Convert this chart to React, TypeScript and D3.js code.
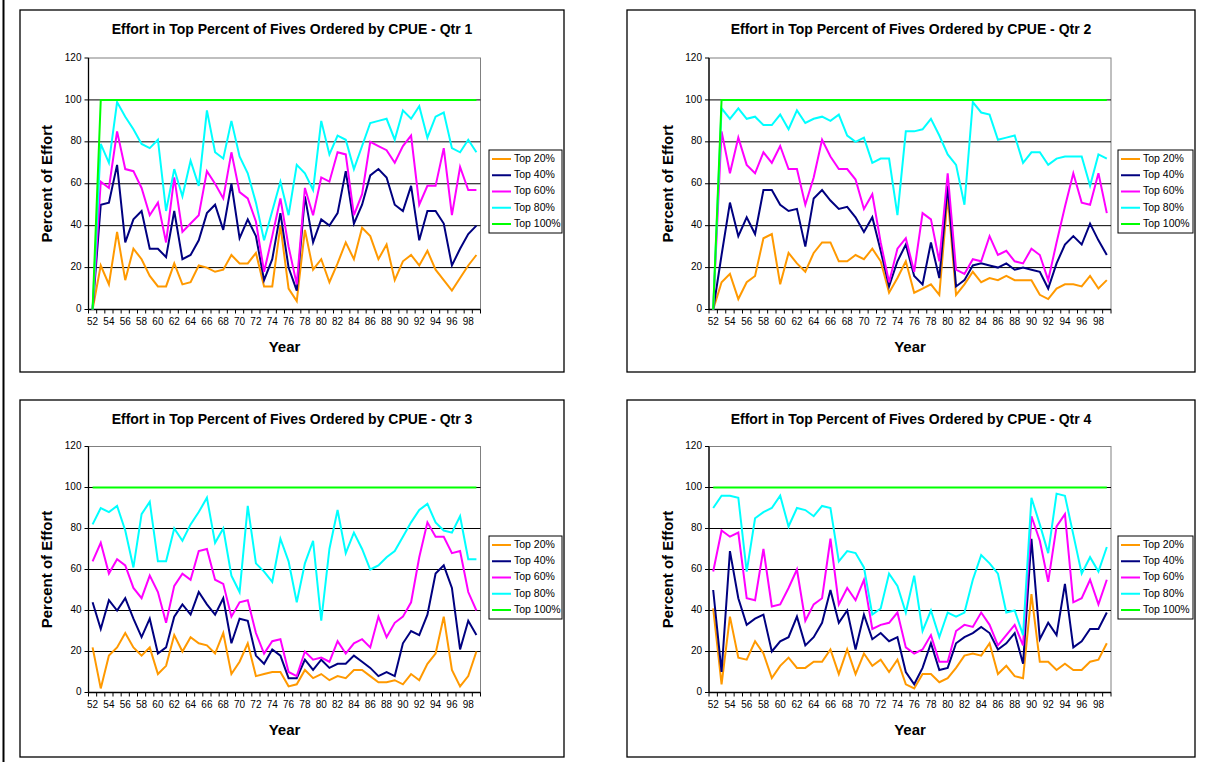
import React from "react";
import * as d3 from "d3";

const years = ["52","53","54","55","56","57","58","59","60","61","62","63","64","65","66","67","68","69","70","71","72","73","74","75","76","77","78","79","80","81","82","83","84","85","86","87","88","89","90","91","92","93","94","95","96","97","98","99"];
const xTickLabels = ["52","54","56","58","60","62","64","66","68","70","72","74","76","78","80","82","84","86","88","90","92","94","96","98"];
const yTicks = [0, 20, 40, 60, 80, 100, 120];
const seriesNames = ["Top 20%", "Top 40%", "Top 60%", "Top 80%", "Top 100%"];
const seriesColors = ["#FF9900", "#000080", "#FF00FF", "#00FFFF", "#00FF00"];

// Qtr 1
const q1Top20 = [0,21,12,37,14,29,24,16,11,11,22,12,13,21,20,18,19,26,22,22,27,11,11,40,10,4,38,19,24,13,22,32,24,39,35,24,31,14,23,26,21,28,19,14,9,15,21,26];
const q1Top40 = [0,50,51,69,32,43,47,29,29,25,47,24,26,33,46,50,38,60,34,43,35,14,24,46,20,9,54,32,43,40,46,66,41,50,64,67,63,50,47,59,33,47,47,41,21,29,36,40];
const q1Top60 = [0,61,58,85,67,66,58,45,51,32,63,37,41,45,66,60,53,75,56,53,42,18,35,53,30,12,58,45,63,61,75,74,45,55,80,78,76,70,78,83,50,59,59,77,45,68,57,57];
const q1Top80 = [0,79,70,99,92,86,79,77,81,47,67,54,71,59,95,75,72,90,73,65,51,33,47,61,45,69,65,57,90,74,83,81,67,78,89,90,91,81,95,91,97,82,92,94,77,75,81,75];
const q1Top100 = [0,100,100,100,100,100,100,100,100,100,100,100,100,100,100,100,100,100,100,100,100,100,100,100,100,100,100,100,100,100,100,100,100,100,100,100,100,100,100,100,100,100,100,100,100,100,100,100];

// Qtr 2
const q2Top20 = [0,13,17,5,13,16,34,36,12,27,22,18,27,32,32,23,23,26,24,29,23,8,15,23,8,10,12,7,54,7,12,18,13,15,14,16,14,14,14,7,5,10,12,12,11,16,10,14];
const q2Top40 = [0,26,51,35,44,36,57,57,50,47,48,30,53,57,52,48,49,44,37,44,28,11,23,31,16,12,32,15,59,11,14,21,22,21,20,22,19,20,19,18,10,22,31,35,31,41,33,26];
const q2Top60 = [0,85,65,82,69,65,75,70,78,67,67,50,63,81,73,67,67,62,48,55,32,13,29,34,18,46,43,23,65,19,17,24,23,35,26,28,23,22,29,26,14,32,49,65,51,50,65,46];
const q2Top80 = [0,96,91,96,91,92,88,88,93,86,95,89,91,92,90,93,83,80,82,70,72,72,45,85,85,86,91,83,74,69,50,99,94,93,81,82,83,70,75,75,69,72,73,73,73,59,74,72];
const q2Top100 = [0,100,100,100,100,100,100,100,100,100,100,100,100,100,100,100,100,100,100,100,100,100,100,100,100,100,100,100,100,100,100,100,100,100,100,100,100,100,100,100,100,100,100,100,100,100,100,100];

// Qtr 3
const q3Top20 = [22,2,18,22,29,22,18,22,9,13,28,20,27,24,23,19,29,9,15,24,8,9,10,10,3,4,11,7,9,6,8,7,11,11,8,5,5,6,4,9,6,14,19,37,11,3,8,20];
const q3Top40 = [44,31,45,40,46,36,27,36,19,22,37,43,38,49,43,38,46,24,36,35,18,14,21,18,7,7,16,11,16,12,14,14,18,15,12,8,10,8,24,30,28,38,58,62,51,21,35,28];
const q3Top60 = [64,73,58,65,62,51,46,57,49,34,52,58,55,69,70,55,53,37,44,45,29,19,25,26,10,8,20,16,17,15,25,19,24,26,22,37,27,34,37,44,66,83,76,76,68,69,49,40];
const q3Top80 = [82,90,88,91,79,61,87,93,64,64,80,74,82,88,95,73,80,57,49,91,63,59,54,75,64,44,63,74,35,70,89,68,78,70,60,62,66,69,76,83,89,92,83,79,78,86,65,65];
const q3Top100 = [100,100,100,100,100,100,100,100,100,100,100,100,100,100,100,100,100,100,100,100,100,100,100,100,100,100,100,100,100,100,100,100,100,100,100,100,100,100,100,100,100,100,100,100,100,100,100,100];

// Qtr 4
const q4Top20 = [41,4,37,17,16,25,19,7,13,17,12,12,15,15,21,9,21,9,19,13,16,10,16,4,2,9,9,5,7,12,18,19,18,24,9,13,8,7,48,15,15,11,14,11,11,15,16,24];
const q4Top40 = [50,10,69,46,33,36,38,20,25,27,37,23,27,34,50,34,40,21,38,26,29,25,27,10,4,12,24,11,12,24,27,29,32,29,21,24,29,14,75,26,34,28,53,22,25,31,31,39];
const q4Top60 = [59,79,76,78,46,45,70,42,43,51,60,35,43,46,75,43,51,45,55,31,33,34,39,22,19,21,28,15,15,30,33,32,39,33,23,28,33,23,86,74,54,81,87,44,46,55,43,55];
const q4Top80 = [90,96,96,95,59,85,88,90,96,81,90,89,86,91,90,64,69,68,61,38,41,58,52,39,57,30,40,27,39,37,39,55,67,63,58,39,40,28,95,82,68,97,96,77,58,66,59,71];
const q4Top100 = [100,100,100,100,100,100,100,100,100,100,100,100,100,100,100,100,100,100,100,100,100,100,100,100,100,100,100,100,100,100,100,100,100,100,100,100,100,100,100,100,100,100,100,100,100,100,100,100];

const FONT = "Arial, 'Liberation Sans', sans-serif";

type PanelCfg = {
  title: string;
  box: [number, number, number, number];
  plot: [number, number, number, number];
  legend: [number, number, number, number];
  series: number[][];
};

const panels: PanelCfg[] = [
  { title: "Effort in Top Percent of Fives Ordered by CPUE - Qtr 1", box: [20, 10, 564, 372], plot: [88.5, 58, 480.5, 309.5], legend: [489, 150, 562, 233], series: [q1Top20, q1Top40, q1Top60, q1Top80, q1Top100] },
  { title: "Effort in Top Percent of Fives Ordered by CPUE - Qtr 2", box: [627, 10, 1195, 372], plot: [709, 58, 1111, 309.5], legend: [1118, 150, 1193, 233], series: [q2Top20, q2Top40, q2Top60, q2Top80, q2Top100] },
  { title: "Effort in Top Percent of Fives Ordered by CPUE - Qtr 3", box: [20, 400, 564, 757], plot: [88.5, 446.5, 480.5, 692.5], legend: [489, 536, 562, 619], series: [q3Top20, q3Top40, q3Top60, q3Top80, q3Top100] },
  { title: "Effort in Top Percent of Fives Ordered by CPUE - Qtr 4", box: [627, 400, 1195, 757], plot: [709, 446.5, 1111, 692.5], legend: [1118, 536, 1193, 619], series: [q4Top20, q4Top40, q4Top60, q4Top80, q4Top100] },
];

function Panel({ cfg }: { cfg: PanelCfg }) {
  const [bx0, by0, bx1, by1] = cfg.box;
  const [px0, py0, px1, py1] = cfg.plot;
  const [lx0, ly0, lx1, ly1] = cfg.legend;
  const x = d3.scaleBand<string>().domain(years).range([px0, px1]).paddingInner(0).paddingOuter(0);
  const y = d3.scaleLinear().domain([0, 120]).range([py1, py0]);
  const bw = x.bandwidth();
  const line = d3
    .line<number>()
    .x((_, i) => (x(years[i]) as number) + bw / 2)
    .y((d) => y(d));
  const boundaries = years.map((yr) => x(yr) as number).concat([px1]);
  const legendStep = (ly1 - ly0 - 18) / 4;
  return (
    <g>
      <rect x={bx0} y={by0} width={bx1 - bx0} height={by1 - by0} fill="#fff" stroke="#000" strokeWidth={1.3} />
      <text x={(bx0 + bx1) / 2} y={by0 + 20} textAnchor="middle" dominantBaseline="middle" fontFamily={FONT} fontWeight="bold" fontSize={14}>
        {cfg.title}
      </text>
      <rect x={px0} y={py0} width={px1 - px0} height={py1 - py0} fill="#fff" stroke="#808080" strokeWidth={1} />
      {yTicks.filter((t) => t > 0 && t < 120).map((t) => (
        <line key={"g" + t} x1={px0} x2={px1} y1={y(t)} y2={y(t)} stroke="#000" strokeWidth={1} />
      ))}
      <line x1={px0} x2={px0} y1={py0} y2={py1} stroke="#000" strokeWidth={1.3} />
      <line x1={px0} x2={px1} y1={py1} y2={py1} stroke="#000" strokeWidth={1.3} />
      {yTicks.map((t) => (
        <g key={"yt" + t}>
          <line x1={px0 - 4} x2={px0} y1={y(t)} y2={y(t)} stroke="#000" strokeWidth={1} />
          <text x={px0 - 7} y={y(t)} textAnchor="end" dominantBaseline="middle" fontFamily={FONT} fontSize={10}>
            {t}
          </text>
        </g>
      ))}
      {boundaries.map((bx, i) => (
        <line key={"xt" + i} x1={bx} x2={bx} y1={py1} y2={py1 + 4} stroke="#000" strokeWidth={1} />
      ))}
      {xTickLabels.map((lab) => (
        <text key={"xl" + lab} x={(x(lab) as number) + bw / 2} y={py1 + 13} textAnchor="middle" dominantBaseline="middle" fontFamily={FONT} fontSize={10}>
          {lab}
        </text>
      ))}
      <text x={(px0 + px1) / 2} y={py1 + 39} textAnchor="middle" dominantBaseline="middle" fontFamily={FONT} fontWeight="bold" fontSize={15}>
        Year
      </text>
      <text
        transform={`translate(${px0 - 40},${(py0 + py1) / 2}) rotate(-90)`}
        textAnchor="middle"
        dominantBaseline="middle"
        fontFamily={FONT}
        fontWeight="bold"
        fontSize={15}
      >
        Percent of Effort
      </text>
      {cfg.series.map((s, k) => (
        <path key={"s" + k} d={line(s) || ""} fill="none" stroke={seriesColors[k]} strokeWidth={2} strokeLinejoin="miter" />
      ))}
      <rect x={lx0} y={ly0} width={lx1 - lx0} height={ly1 - ly0} fill="#fff" stroke="#000" strokeWidth={1} />
      {seriesNames.map((nm, k) => {
        const yy = ly0 + 9 + legendStep * k;
        return (
          <g key={"l" + k}>
            <line x1={lx0 + 3} x2={lx0 + 22} y1={yy} y2={yy} stroke={seriesColors[k]} strokeWidth={2} />
            <text x={lx0 + 25} y={yy} dominantBaseline="middle" fontFamily={FONT} fontSize={10.5}>
              {nm}
            </text>
          </g>
        );
      })}
    </g>
  );
}

export default function App() {
  return (
    <svg width={1218} height={762} style={{ position: "absolute", left: 0, top: 0, background: "#fff" }}>
      <rect x={0} y={0} width={1218} height={762} fill="#fff" />
      <line x1={3.5} x2={3.5} y1={0} y2={762} stroke="#000" strokeWidth={2} />
      {panels.map((p, i) => (
        <Panel key={i} cfg={p} />
      ))}
    </svg>
  );
}
